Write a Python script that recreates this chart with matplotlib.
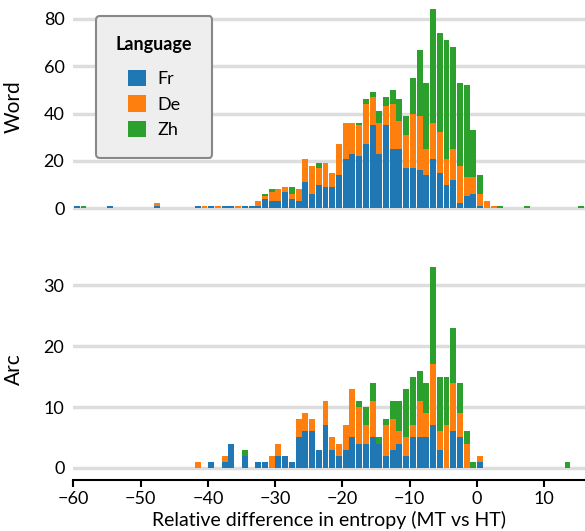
import matplotlib
matplotlib.use("Agg")
import matplotlib.pyplot as plt
import numpy as np

plt.rcParams['font.family'] = ['Lato', 'DejaVu Sans']

# Word panel: bin left edges and counts per language
word_bins = [-60, -59, -55, -48] + list(range(-42, 4)) + [7, 15]
word_fr = [1, 0, 1, 1,
           1, 0, 1, 0, 1, 1, 0, 1, 1, 1, 4, 3, 3, 7, 4, 3, 11, 6, 10, 9, 9, 14, 21, 23, 22, 27,
           35, 23, 35, 25, 25, 17, 17, 16, 14, 21, 15, 10, 12, 2, 5, 6, 1, 0, 0, 0,
           0, 0]
word_de = [0, 0, 0, 1,
           0, 1, 0, 1, 0, 0, 1, 0, 0, 2, 1, 4, 5, 2, 2, 5, 10, 12, 7, 10, 6, 13, 15, 13, 13, 17,
           12, 13, 8, 19, 12, 14, 23, 23, 11, 15, 17, 11, 13, 16, 8, 7, 5, 3, 1, 0,
           0, 0]
word_zh = [0, 1, 0, 0,
           0, 0, 0, 0, 0, 0, 0, 0, 0, 0, 1, 1, 0, 0, 3, 0, 0, 0, 2, 0, 0, 0, 0, 0, 1, 2,
           2, 5, 4, 6, 9, 8, 15, 28, 28, 48, 42, 50, 43, 35, 39, 20, 8, 0, 0, 1,
           1, 1]

# Arc panel
arc_bins = [-42, -40, -38, -37, -35, -33, -32, -31, -30, -29, -28, -27, -26, -25, -24, -23,
            -22, -21, -20, -19, -18, -17, -16, -15, -14, -13, -12, -11, -10, -9, -8, -7,
            -6, -5, -4, -3, -2, -1, 0, 13]
arc_fr = [0, 1, 1, 4, 2, 1, 1, 0, 2, 2, 1, 5, 6, 6, 3, 7,
          3, 2, 3, 5, 4, 4, 5, 4, 2, 3, 4, 2, 5, 5, 5, 7,
          3, 0, 6, 5, 0, 0, 1, 0]
arc_de = [1, 0, 1, 0, 0, 0, 0, 2, 2, 0, 0, 3, 3, 2, 0, 4,
          2, 2, 4, 8, 6, 3, 6, 0, 5, 5, 2, 3, 2, 6, 4, 10,
          3, 7, 8, 4, 4, 0, 1, 0]
arc_zh = [0, 0, 0, 0, 1, 0, 0, 0, 0, 0, 0, 0, 0, 0, 0, 0,
          0, 0, 0, 0, 1, 3, 3, 1, 1, 3, 5, 8, 8, 5, 5, 16,
          9, 8, 9, 5, 2, 1, 0, 1]

languages = ['Fr', 'De', 'Zh']
colors = ['#1f77b4', '#ff7f0e', '#2ca02c']

fig = plt.figure(figsize=(5.85, 5.31), dpi=100)
ax1 = fig.add_axes([0.1243, 0.599, 0.8757, 0.401])
ax2 = fig.add_axes([0.1243, 0.096, 0.8757, 0.418])

def draw(ax, bins, series):
    b = np.array(bins) + 0.06
    bottom = np.zeros(len(bins))
    for vals, c, lab in zip(series, colors, languages):
        v = np.array(vals, dtype=float)
        ax.bar(b, v, width=0.88, bottom=bottom, align='edge', color=c, label=lab, linewidth=0)
        bottom += v

draw(ax1, word_bins, [word_fr, word_de, word_zh])
draw(ax2, arc_bins, [arc_fr, arc_de, arc_zh])

for ax in (ax1, ax2):
    ax.set_xlim(-60.1, 16.1)
    ax.grid(axis='y', color='#dddddd', linewidth=2.5)
    ax.set_axisbelow(True)
    for s in ('top', 'right', 'left'):
        ax.spines[s].set_visible(False)
    ax.tick_params(axis='y', length=0, labelsize=13, pad=6)
    ax.tick_params(axis='x', labelsize=13)

ax1.set_ylim(-2, 88)
ax1.set_yticks([0, 20, 40, 60, 80])
ax1.spines['bottom'].set_visible(False)
ax1.set_xticks([])
ax2.set_ylim(-2, 34.5)
ax2.set_yticks([0, 10, 20, 30])
ax2.set_xticks([-60, -50, -40, -30, -20, -10, 0, 10])
ax2.set_xticklabels(['\u221260', '\u221250', '\u221240', '\u221230', '\u221220', '\u221210', '0', '10'])
ax2.spines['bottom'].set_linewidth(1.5)
ax2.tick_params(axis='x', width=1.5, length=5, pad=3)

ax1.set_ylabel('Word', fontsize=15)
ax2.set_ylabel('Arc', fontsize=15)
ax2.set_xlabel('Relative difference in entropy (MT vs HT)', fontsize=14, labelpad=3)
ax1.yaxis.set_label_coords(-0.095, 0.5)
ax2.yaxis.set_label_coords(-0.095, 0.5)

leg = ax1.legend(title='Language', loc='upper left', bbox_to_anchor=(0.028, 0.965),
                 fontsize=13, title_fontproperties={'weight': 'bold', 'size': 13},
                 frameon=True, fancybox=True, borderpad=1.1, handlelength=1.0,
                 handleheight=1.0, labelspacing=0.45, handletextpad=0.6)
leg._legend_box.sep = 12
fr = leg.get_frame()
fr.set_facecolor('#eeeeee')
fr.set_edgecolor('#888888')
fr.set_linewidth(1.5)
fr.set_alpha(1)

fig.savefig('out.png', dpi=100)
